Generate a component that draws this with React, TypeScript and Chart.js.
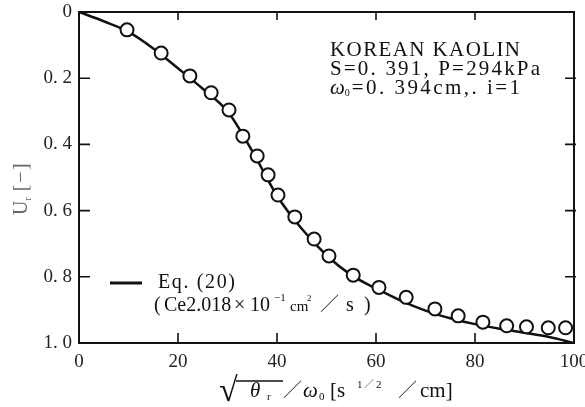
import React, { useEffect, useRef } from 'react';
import { Chart, registerables } from 'chart.js';
Chart.register(...registerables);

// Model curve, Eq. (20)
const curveX = [0, 5, 10, 15, 20, 25, 30, 35, 40, 45, 50, 55, 60, 65, 70, 75, 80, 85, 90, 95, 100];
const curveY = [0, 0.028, 0.06, 0.11, 0.17, 0.232, 0.3, 0.42, 0.555, 0.655, 0.735, 0.795, 0.835, 0.872, 0.902, 0.925, 0.943, 0.957, 0.969, 0.982, 1.0];

// Measured points (open circles)
const obsX = [9.7, 16.6, 22.4, 26.7, 30.3, 33.1, 36.0, 38.2, 40.2, 43.6, 47.5, 50.5, 55.4, 60.6, 66.1, 71.9, 76.6, 81.6, 86.4, 90.4, 94.8, 98.3];
const obsY = [0.054, 0.124, 0.193, 0.244, 0.296, 0.375, 0.435, 0.492, 0.553, 0.619, 0.686, 0.737, 0.795, 0.832, 0.862, 0.897, 0.918, 0.937, 0.948, 0.951, 0.954, 0.954];

const xTicks = [0, 20, 40, 60, 80, 100];
const xTickLabels = ['0', '20', '40', '60', '80', '100'];
const yTicks = [0, 0.2, 0.4, 0.6, 0.8, 1.0];
const yTickLabels = ['0', '0. 2', '0. 4', '0. 6', '0. 8', '1. 0'];
const xMinorMarks = [20, 40, 60, 80];
const yMinorMarks = [0.2, 0.4, 0.6, 0.8];

const noteLine1 = 'KOREAN KAOLIN';
const noteLine2 = 'S=0. 391, P=294kPa';
const noteLine3Tail = '=0. 394cm,. i=1';
const legendLabel = 'Eq. (20)';

const SERIF = '"Liberation Serif", "DejaVu Serif", serif';
const CJK = '"Noto Sans CJK JP", "Noto Sans CJK SC", sans-serif';

const App = () => {
  const ref = useRef<HTMLCanvasElement>(null);
  useEffect(() => {
    const canvas = ref.current;
    if (!canvas) return;
    const ctx2 = canvas.getContext('2d');
    if (!ctx2) return;

    const font = (size: number, style = '') => `${style} ${size}px ${SERIF}`.trim();
    const cjk = (size: number) => `300 ${size}px ${CJK}`;

    const drawSpaced = (ctx: CanvasRenderingContext2D, text: string, x: number, y: number, target: number) => {
      (ctx as any).letterSpacing = '0px';
      const w = ctx.measureText(text).width;
      const n = Math.max(1, text.length - 1);
      const sp = Math.max(0, (target - w) / n);
      (ctx as any).letterSpacing = `${sp}px`;
      ctx.fillText(text, x, y);
      (ctx as any).letterSpacing = '0px';
    };

    const decor = {
      id: 'decor',
      afterDraw(chart: any) {
        const ctx: CanvasRenderingContext2D = chart.ctx;
        const { left, right, top, bottom } = chart.chartArea;
        const xs = chart.scales.x;
        const ys = chart.scales.y;
        ctx.save();
        ctx.strokeStyle = '#111';
        ctx.fillStyle = '#111';
        // frame
        ctx.lineWidth = 2;
        ctx.strokeRect(left, top, right - left, bottom - top);
        // inward ticks
        ctx.lineWidth = 1.6;
        ctx.beginPath();
        for (const v of xMinorMarks) {
          const px = xs.getPixelForValue(v);
          ctx.moveTo(px, bottom);
          ctx.lineTo(px, bottom - 10);
          ctx.moveTo(px, top);
          ctx.lineTo(px, top + 8);
        }
        for (const v of yMinorMarks) {
          const py = ys.getPixelForValue(v);
          ctx.moveTo(left, py);
          ctx.lineTo(left + 11, py);
          ctx.moveTo(right + 2, py);
          ctx.lineTo(right - 9, py);
        }
        ctx.stroke();

        // y-axis title (rotated)
        ctx.save();
        ctx.fillStyle = '#666';
        ctx.translate(27, 215);
        ctx.rotate(-Math.PI / 2);
        ctx.textBaseline = 'alphabetic';
        ctx.textAlign = 'left';
        let cx = 0;
        ctx.font = font(20);
        ctx.fillText('U', cx, 0);
        cx += ctx.measureText('U').width;
        ctx.font = font(10);
        ctx.fillText('r', cx, 4);
        cx += ctx.measureText('r').width + 6;
        ctx.font = font(20);
        drawSpaced(ctx, '[−]', cx, 0, 28);
        ctx.restore();

        // x-axis title
        ctx.textAlign = 'left';
        ctx.textBaseline = 'alphabetic';
        const base = 397;
        ctx.font = font(34, 'bold');
        ctx.fillText('√', 219, base + 4);
        ctx.font = font(21, 'italic');
        ctx.fillText('θ', 250, base);
        ctx.font = font(11);
        ctx.fillText('r', 267, base + 3);
        ctx.lineWidth = 1.5;
        ctx.beginPath();
        ctx.moveTo(236, 381);
        ctx.lineTo(283, 381);
        ctx.stroke();
        ctx.font = cjk(19);
        ctx.fillText('／', 283, base);
        ctx.font = font(21, 'italic');
        ctx.fillText('ω', 303, base);
        ctx.font = font(11);
        ctx.fillText('0', 319, base + 3);
        ctx.font = font(21);
        ctx.fillText('[s', 330, base);
        ctx.font = font(11);
        ctx.fillText('1', 357, base - 9);
        ctx.font = cjk(10);
        ctx.fillText('／', 364, base - 9);
        ctx.font = font(11);
        ctx.fillText('2', 376, base - 9);
        ctx.font = cjk(19);
        ctx.fillText('／', 398, base);
        ctx.font = font(21);
        ctx.fillText('cm]', 420, base);

        // annotation block
        ctx.fillStyle = '#111';
        ctx.font = font(21);
        drawSpaced(ctx, noteLine1, 330, 56, 190);
        drawSpaced(ctx, noteLine2, 330, 75, 210);
        ctx.font = font(21, 'italic');
        ctx.fillText('ω', 330, 94);
        let ax = 330 + ctx.measureText('ω').width;
        ctx.font = font(10);
        ctx.fillText('0', ax, 96);
        ax += ctx.measureText('0').width + 2;
        ctx.font = font(21);
        drawSpaced(ctx, noteLine3Tail, ax, 94, 520 - ax);

        // legend
        ctx.lineWidth = 3;
        ctx.beginPath();
        ctx.moveTo(110, 283);
        ctx.lineTo(142, 283);
        ctx.stroke();
        ctx.font = font(20);
        drawSpaced(ctx, legendLabel, 158, 288, 77);
        const lb = 311;
        ctx.fillText('(', 154, lb);
        ctx.fillText('Ce2.018', 164, lb);
        ctx.fillText('×', 234, lb);
        ctx.fillText('10', 250, lb);
        ctx.font = font(11);
        ctx.fillText('−1', 274, lb - 10);
        ctx.font = font(15);
        ctx.fillText('cm', 290, lb);
        ctx.font = font(9);
        ctx.fillText('2', 307, lb - 10);
        ctx.font = cjk(19);
        ctx.fillText('／', 320, lb);
        ctx.font = font(20);
        ctx.fillText('s', 346, lb);
        ctx.fillText(')', 364, lb);
        ctx.restore();
      },
    };

    const chart = new Chart(ctx2, {
      type: 'scatter',
      data: {
        datasets: [
          {
            label: 'measured',
            data: obsX.map((x, i) => ({ x, y: obsY[i] })),
            pointRadius: 6.5,
            pointBackgroundColor: '#fff',
            pointBorderColor: '#111',
            pointBorderWidth: 2,
            showLine: false,
          },
          {
            label: legendLabel,
            data: curveX.map((x, i) => ({ x, y: curveY[i] })),
            showLine: true,
            borderColor: '#111',
            borderWidth: 2.5,
            pointRadius: 0,
            cubicInterpolationMode: 'monotone',
          } as any,
        ],
      },
      options: {
        responsive: false,
        animation: false,
        layout: { padding: { top: 12, right: 11, left: 0, bottom: 0 } },
        plugins: { legend: { display: false }, tooltip: { enabled: false } },
        scales: {
          x: {
            type: 'linear',
            min: 0,
            max: 100,
            afterBuildTicks: (s: any) => {
              s.ticks = xTicks.map((v) => ({ value: v }));
            },
            ticks: {
              callback: (_v: any, i: number) => xTickLabels[i],
              font: { family: SERIF, size: 19 },
              color: '#222',
              padding: 8,
              maxRotation: 0,
              autoSkip: false,
            },
            grid: { display: false, drawTicks: false },
            border: { display: false },
            afterFit: (s: any) => {
              s.height = 64;
              s.paddingLeft = 0;
              s.paddingRight = 0;
            },
          },
          y: {
            type: 'linear',
            reverse: true,
            min: 0,
            max: 1,
            afterBuildTicks: (s: any) => {
              s.ticks = yTicks.map((v) => ({ value: v }));
            },
            ticks: {
              callback: (_v: any, i: number) => yTickLabels[i],
              font: { family: SERIF, size: 19 },
              color: '#222',
              padding: 7,
              autoSkip: false,
            },
            grid: { display: false, drawTicks: false },
            border: { display: false },
            afterFit: (s: any) => {
              s.width = 79;
              s.paddingTop = 0;
              s.paddingBottom = 0;
            },
          },
        },
      } as any,
      plugins: [decor],
    });
    return () => chart.destroy();
  }, []);

  return (
    <div style={{ position: 'fixed', left: 0, top: 0, width: 585, height: 407, background: '#fff' }}>
      <canvas ref={ref} width={585} height={407} style={{ display: 'block' }} />
    </div>
  );
};

export default App;
